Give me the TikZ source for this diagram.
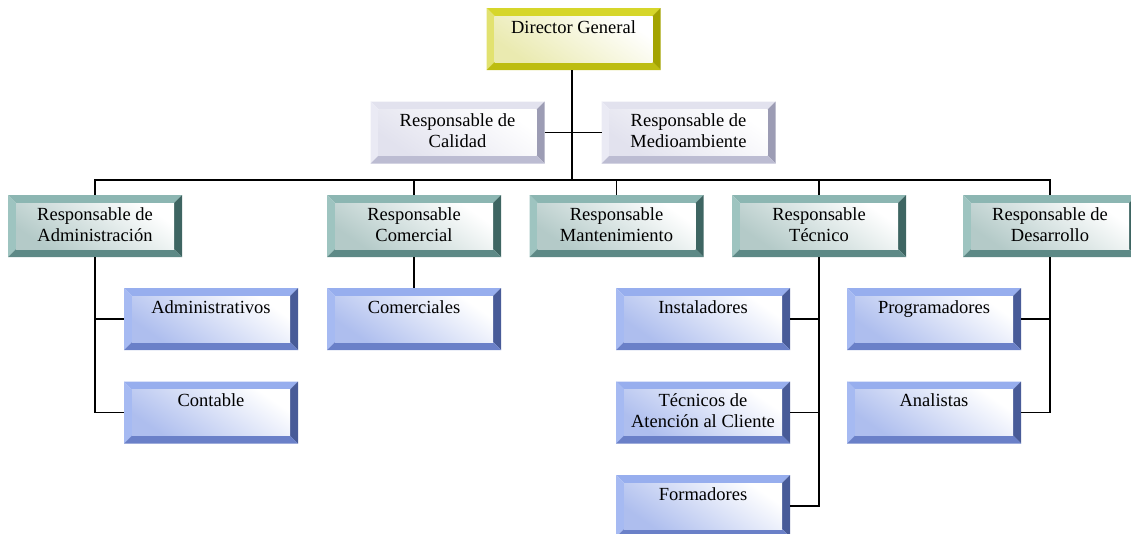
\documentclass[tikz,border=0pt]{standalone}
\usepackage{fontspec}
\setmainfont{Liberation Serif}
\usetikzlibrary{calc}
\definecolor{yT}{HTML}{D6D62A}\definecolor{yL}{HTML}{E2E270}\definecolor{yR}{HTML}{A3A300}\definecolor{yB}{HTML}{BDBD10}\definecolor{yI}{HTML}{EAEAB0}
\definecolor{lT}{HTML}{E2E2EE}\definecolor{lL}{HTML}{EAEAF4}\definecolor{lR}{HTML}{9C9CB4}\definecolor{lB}{HTML}{BCBCD2}\definecolor{lI}{HTML}{E2E2EE}
\definecolor{tT}{HTML}{8CB6B2}\definecolor{tL}{HTML}{9EC4C0}\definecolor{tR}{HTML}{3E6562}\definecolor{tB}{HTML}{5D8986}\definecolor{tI}{HTML}{B4CAC8}
\definecolor{bT}{HTML}{97AEEE}\definecolor{bL}{HTML}{A6BAF2}\definecolor{bR}{HTML}{485B98}\definecolor{bB}{HTML}{6A80C8}\definecolor{bI}{HTML}{AEBEEE}
\newcommand\bxt[1]{\parbox[c][62pt][t]{174pt}{\centering\fontsize{18.5}{21}\selectfont\rule{0pt}{25pt}#1}}
\tikzset{
  x=1pt,y=1pt,
  bevbox/.style n args={5}{inner sep=0pt, outer sep=0pt,
    path picture={
      \coordinate (pnw) at (path picture bounding box.north west);
      \coordinate (pne) at (path picture bounding box.north east);
      \coordinate (psw) at (path picture bounding box.south west);
      \coordinate (pse) at (path picture bounding box.south east);
      \fill[#1] (pnw) -- (pne) -- ([shift={(-8,-8)}]pne) -- ([shift={(8,-8)}]pnw) -- cycle;
      \fill[#2] (pnw) -- ([shift={(8,-8)}]pnw) -- ([shift={(8,8)}]psw) -- (psw) -- cycle;
      \fill[#3] (pne) -- (pse) -- ([shift={(-8,8)}]pse) -- ([shift={(-8,-8)}]pne) -- cycle;
      \fill[#4] (psw) -- (pse) -- ([shift={(-8,8)}]pse) -- ([shift={(8,8)}]psw) -- cycle;
      \shade[top color=white, bottom color=#5, shading angle=-35] ([shift={(8,-8)}]pnw) rectangle ([shift={(-8,8)}]pse);
    }},
  ybox/.style={bevbox={yT}{yL}{yR}{yB}{yI}},
  lbox/.style={bevbox={lT}{lL}{lR}{lB}{lI}},
  tbox/.style={bevbox={tT}{tL}{tR}{tB}{tI}},
  bbox/.style={bevbox={bT}{bL}{bR}{bB}{bI}},
  conn/.style={line width=1.6pt, draw=black}
}
\begin{document}
\begin{tikzpicture}
\useasboundingbox (0,0) rectangle (1131,-533);
\clip (0,0) rectangle (1131,-533);
% nodes
\node[ybox] (dg) at (573.5,-39) {\bxt{Director General}};
\node[lbox] (cal) at (457.5,-132.5) {\bxt{Responsable de\\Calidad}};
\node[lbox] (med) at (688.5,-132.5) {\bxt{Responsable de\\Medioambiente}};
\node[tbox] (adm) at (95,-226) {\bxt{Responsable de\\Administración}};
\node[tbox] (com) at (414,-226) {\bxt{Responsable\\Comercial}};
\node[tbox] (man) at (616.5,-226) {\bxt{Responsable\\Mantenimiento}};
\node[tbox] (tec) at (819,-226) {\bxt{Responsable\\Técnico}};
\node[tbox] (des) at (1050,-226) {\bxt{Responsable de\\Desarrollo}};
\node[bbox] (adms) at (211,-319) {\bxt{Administrativos}};
\node[bbox] (cont) at (211,-412.5) {\bxt{Contable}};
\node[bbox] (coms) at (414,-319) {\bxt{Comerciales}};
\node[bbox] (inst) at (703,-319) {\bxt{Instaladores}};
\node[bbox] (tat) at (703,-412.5) {\bxt{Técnicos de\\Atención al Cliente}};
\node[bbox] (form) at (703,-506) {\bxt{Formadores}};
\node[bbox] (prog) at (934,-319) {\bxt{Programadores}};
\node[bbox] (ana) at (934,-412.5) {\bxt{Analistas}};
\coordinate (bus) at (572,-180);
\coordinate (top) at (572,-70);
% connectors
\draw[conn] (top) -- (bus);
\draw[conn] (cal.east) -- (cal.east -| top) -- (med.west);
\draw[conn] (adm.north) -- (adm.north |- bus) -- (des.north |- bus) -- (des.north);
\draw[conn] (com.north) -- (com.north |- bus);
\draw[conn] (man.north) -- (man.north |- bus);
\draw[conn] (tec.north) -- (tec.north |- bus);
\draw[conn] (adm.south) -- (adm.south |- cont.west) -- (cont.west);
\draw[conn] (adm.south |- adms.west) -- (adms.west);
\draw[conn] (com.south) -- (coms.north);
\draw[conn] (tec.south) -- (tec.south |- form.east) -- (form.east);
\draw[conn] (tec.south |- inst.east) -- (inst.east);
\draw[conn] (tec.south |- tat.east) -- (tat.east);
\draw[conn] (des.south) -- (des.south |- ana.east) -- (ana.east);
\draw[conn] (des.south |- prog.east) -- (prog.east);
\end{tikzpicture}
\end{document}
